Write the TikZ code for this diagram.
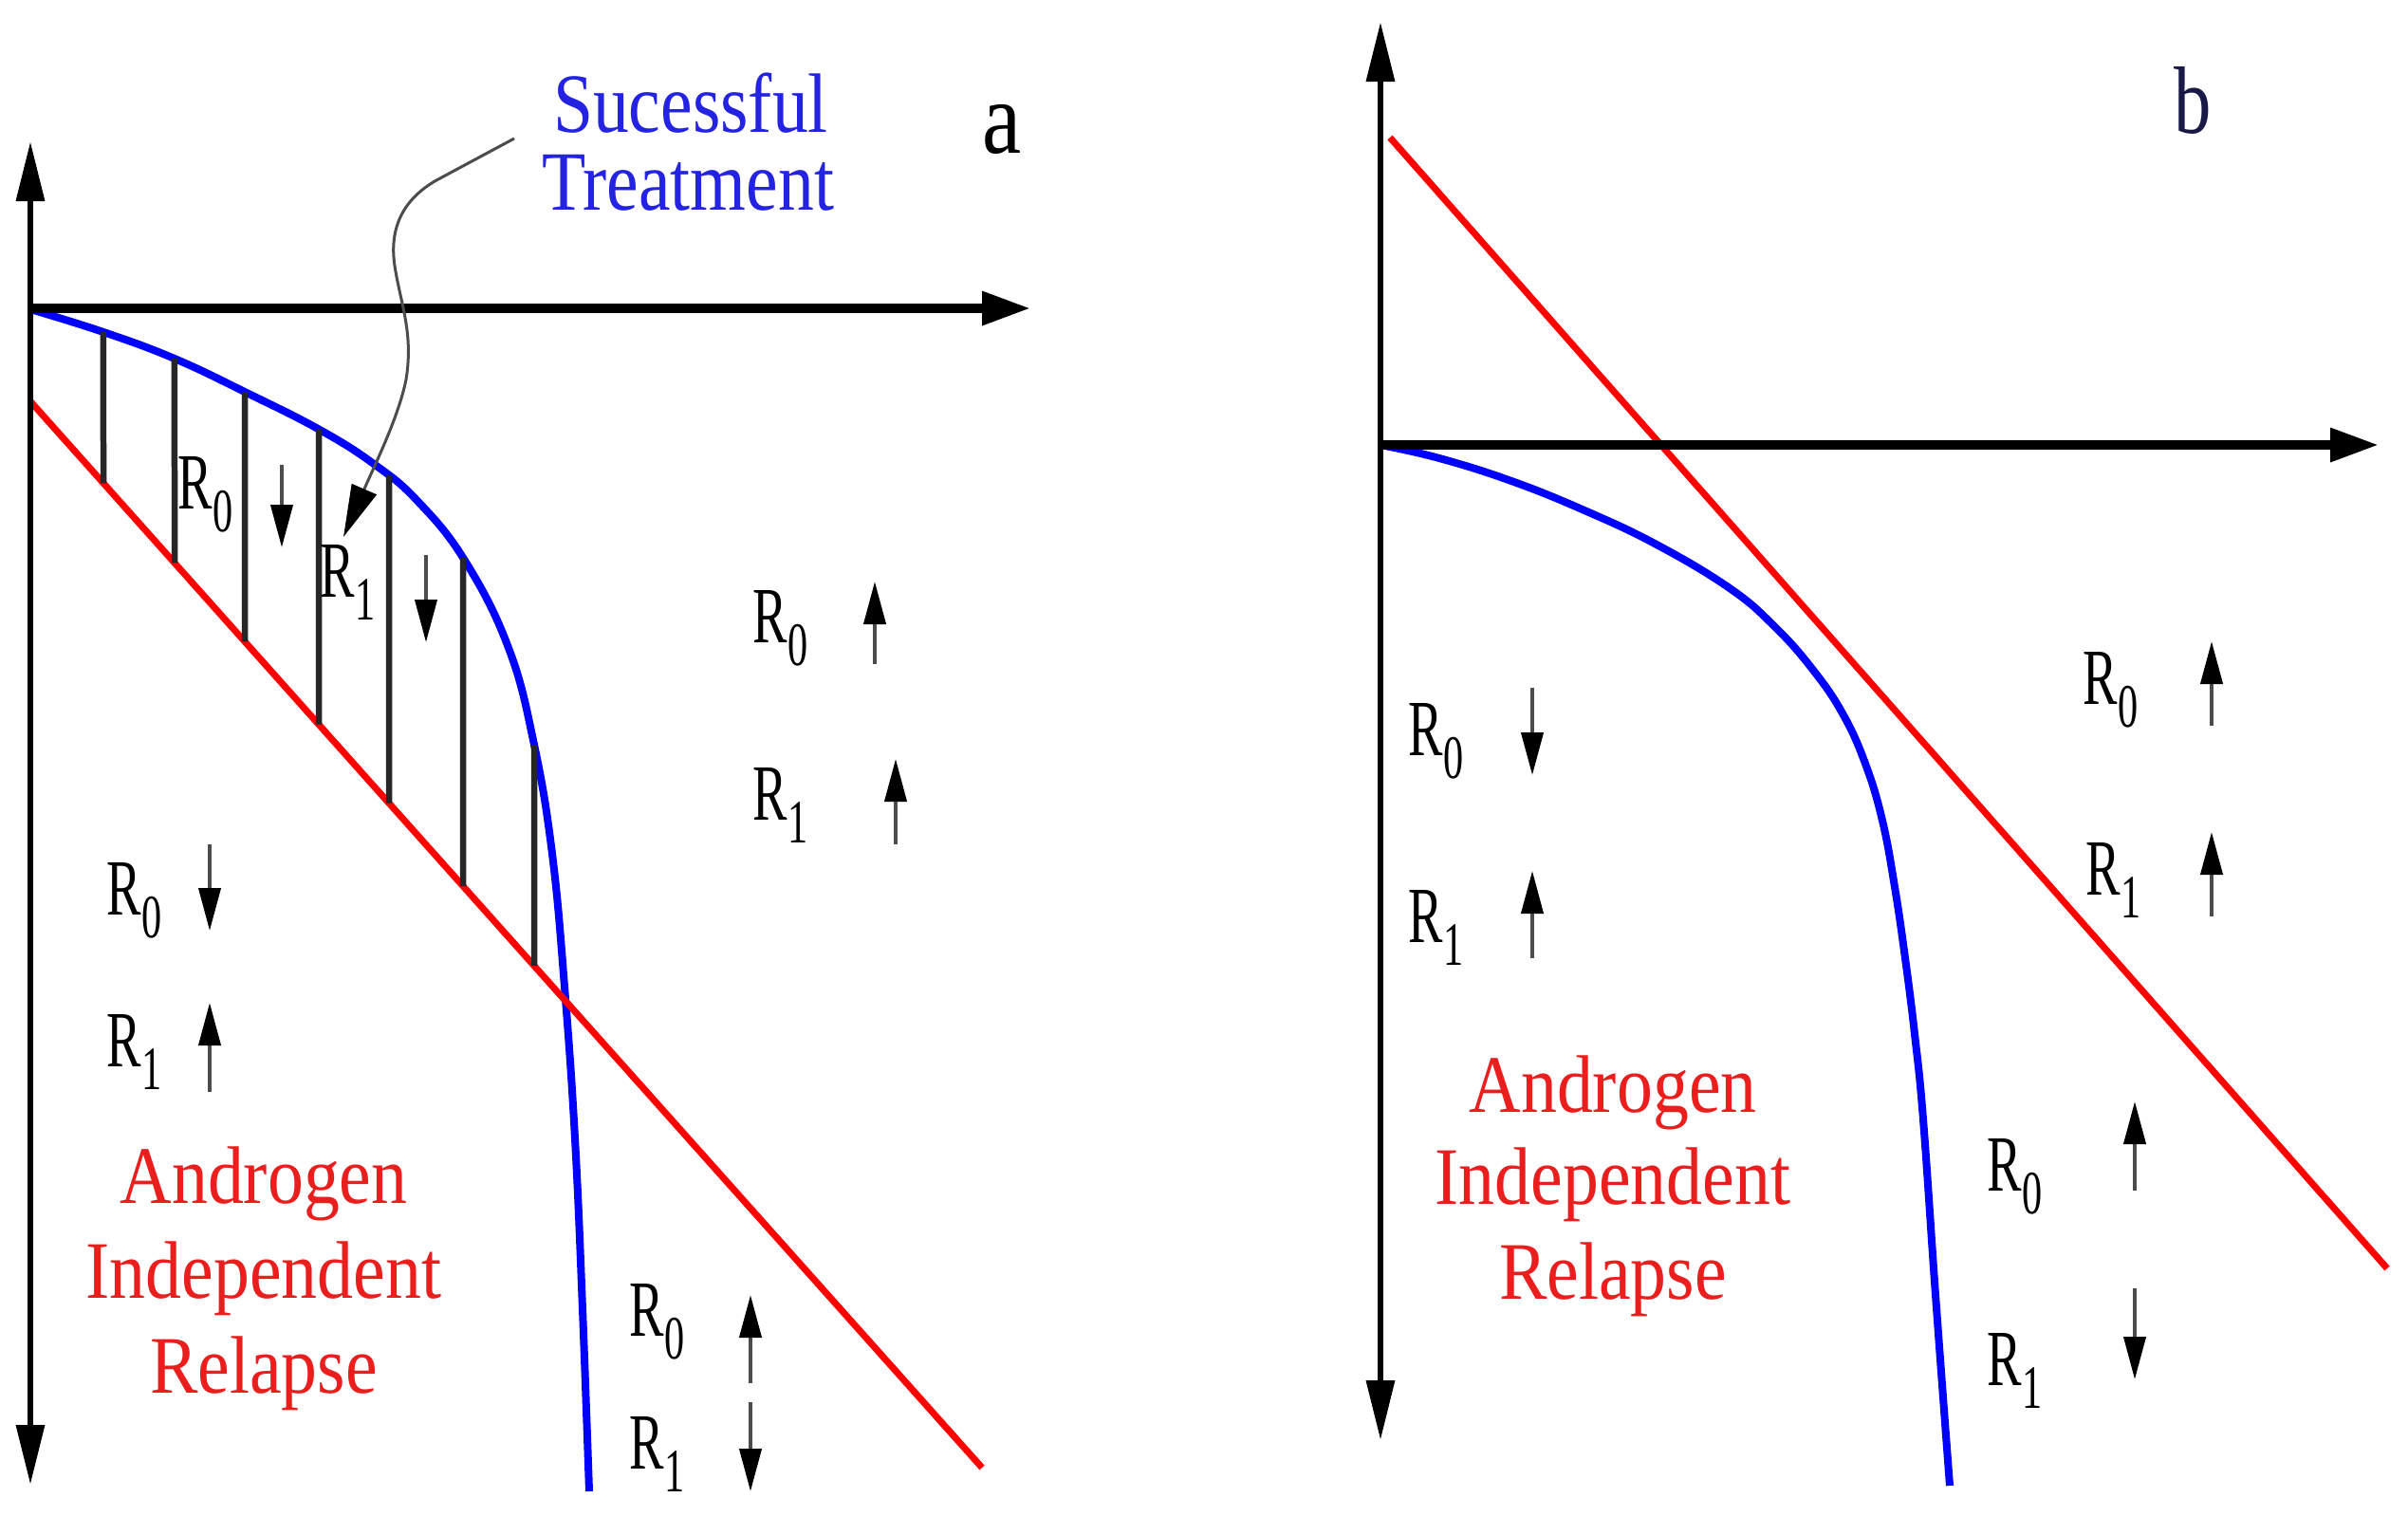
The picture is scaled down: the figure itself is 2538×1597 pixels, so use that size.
\documentclass[tikz,border=0pt]{standalone}
\usepackage{fontspec}
\setmainfont{Liberation Serif}
\newfontfamily\tnr{Liberation Serif}
\usepackage{graphicx}
\usetikzlibrary{arrows.meta,intersections}
\definecolor{txtblue}{RGB}{35,35,225}
\definecolor{txtred}{RGB}{235,30,30}
\definecolor{labb}{RGB}{25,25,70}
\newcommand{\RLab}[1]{\scalebox{0.65}[1]{R\raisebox{-0.29em}{\fontsize{18.5}{18.5}\selectfont #1}}}
\begin{document}
\begin{tikzpicture}[x=0.1mm,y=-0.1mm,
  vaxis/.style={black, line width=0.65mm, {Triangle[length=6.3mm,width=2.9mm]}-{Triangle[length=6.3mm,width=2.9mm]}},
  haxis/.style={black, line width=0.95mm, -{Triangle[length=5.1mm,width=3.4mm]}},
  bluecurve/.style={blue, line width=0.8mm},
  redline/.style={red, line width=0.7mm},
  hatch/.style={black!85, line width=0.65mm},
  sarrow/.style={black!70, line width=0.4mm, -{Triangle[length=4.5mm,width=2.3mm,color=black]}},
  curly/.style={black!70, line width=0.3mm, -{Triangle[length=5.5mm,width=2.8mm,color=black]}},
  rlab/.style={anchor=base west, inner sep=0pt, font=\tnr\fontsize{23.9}{23.9}\selectfont},
  redtxt/.style={anchor=base, inner sep=0pt, text=txtred, font=\tnr\fontsize{24.5}{24.5}\selectfont},
  bluetxt/.style={anchor=base, inner sep=0pt, text=txtblue, font=\tnr\fontsize{25.3}{25.3}\selectfont}
]
\useasboundingbox[fill=white] (0,0) rectangle (2538,1597);

% ---------------- panel a ----------------
\coordinate (aTop) at (32,149);
\coordinate (aBot) at (32,1565);
\coordinate (aO) at (32,325);
\coordinate (aRight) at (1086,325);
\coordinate (ra1) at (32,423);
\coordinate (ra2) at (1035,1547);

\draw[bluecurve, name path=bluea] plot[smooth, tension=0.7] coordinates {(32,326) (109,350) (184,378) (260,414) (337,453) (394,489) (440,528) (490,591) (536,683) (563,785) (582,900) (595,1040) (606,1200) (614,1380) (621,1572)};
\draw[redline, name path=reda] (ra1) -- (ra2);

\foreach \hx in {109,184,258,336,410,488,563} {
  \path[name path=vl] (\hx,300) -- (\hx,1200);
  \path[name intersections={of=vl and bluea, by=T}];
  \path[name intersections={of=vl and reda, by=B}];
  \draw[hatch] (T) -- (B);
}

\draw[vaxis] (aBot) -- (aTop);
\draw[haxis] (aO) -- (aRight);

% labels a
\node[anchor=base, inner sep=0pt, font=\tnr\fontsize{31}{31}\selectfont] (la) at (1056,161) {\scalebox{0.85}[1]{a}};
\node[bluetxt] (sucA) at (728,139) {\scalebox{0.85}[1]{Sucessful}};
\node[bluetxt] (treA) at (725,221) {\scalebox{0.85}[1]{Treatment}};
\coordinate (cs) at (542,146);
\coordinate (ce) at (362,566);
\draw[curly] (cs) -- (460,190) .. controls (425,210) and (410,240) .. (416,280) .. controls (422,320) and (436,350) .. (428,400) .. controls (420,440) and (395,490) .. (ce);

\node[redtxt] (andA1) at (278,1268) {\scalebox{0.88}[1]{Androgen}};
\node[redtxt] (andA2) at (278,1368) {\scalebox{0.88}[1]{Independent}};
\node[redtxt] (andA3) at (278,1468) {\scalebox{0.88}[1]{Relapse}};

\node[rlab] (a1) at (187,536) {\RLab{0}};
\node[rlab] (a2) at (337,629) {\RLab{1}};
\node[rlab] (a3) at (793,677) {\RLab{0}};
\node[rlab] (a4) at (793,864) {\RLab{1}};
\node[rlab] (a5) at (112,964) {\RLab{0}};
\node[rlab] (a6) at (112,1124) {\RLab{1}};
\node[rlab] (a7) at (663,1408) {\RLab{0}};
\node[rlab] (a8) at (663,1548) {\RLab{1}};

\coordinate (p1s) at (297,490); \coordinate (p1e) at (297,577);
\coordinate (p2s) at (449,585); \coordinate (p2e) at (449,677);
\coordinate (p3s) at (922,700); \coordinate (p3e) at (922,613);
\coordinate (p4s) at (944,890); \coordinate (p4e) at (944,800);
\coordinate (p5s) at (221,890); \coordinate (p5e) at (221,981);
\coordinate (p6s) at (221,1151); \coordinate (p6e) at (221,1057);
\coordinate (p7s) at (791,1458); \coordinate (p7e) at (791,1365);
\coordinate (p8s) at (791,1478); \coordinate (p8e) at (791,1572);
\foreach \i in {1,...,8} { \draw[sarrow] (p\i s) -- (p\i e); }

% ---------------- panel b ----------------
\coordinate (bTop) at (1455,23);
\coordinate (bBot) at (1455,1518);
\coordinate (bO) at (1455,469);
\coordinate (bRight) at (2507,469);
\coordinate (rb1) at (1465,145);
\coordinate (rb2) at (2516,1337);

\draw[bluecurve] plot[smooth, tension=0.7] coordinates {(1455,469) (1517,483) (1593,507) (1670,538) (1746,574) (1823,620) (1870,660) (1910,705) (1942,752) (1966,805) (1984,865) (1997,935) (2008,1010) (2018,1090) (2027,1180) (2040,1365) (2055,1566)};
\draw[redline] (rb1) -- (rb2);
\draw[vaxis] (bBot) -- (bTop);
\draw[haxis] (bO) -- (bRight);

\node[anchor=base, inner sep=0pt, text=labb, font=\tnr\fontsize{28.7}{28.7}\selectfont] (lb) at (2311,140) {\scalebox{0.78}[1]{b}};

\node[redtxt] (andB1) at (1700,1172) {\scalebox{0.88}[1]{Androgen}};
\node[redtxt] (andB2) at (1700,1269) {\scalebox{0.88}[1]{Independent}};
\node[redtxt] (andB3) at (1700,1369) {\scalebox{0.88}[1]{Relapse}};

\node[rlab] (b1) at (1484,796) {\RLab{0}};
\node[rlab] (b2) at (1484,993) {\RLab{1}};
\node[rlab] (b3) at (2195,742) {\RLab{0}};
\node[rlab] (b4) at (2198,943) {\RLab{1}};
\node[rlab] (b5) at (2094,1255) {\RLab{0}};
\node[rlab] (b6) at (2094,1460) {\RLab{1}};

\coordinate (q1s) at (1615,725); \coordinate (q1e) at (1615,817);
\coordinate (q2s) at (1615,1010); \coordinate (q2e) at (1615,918);
\coordinate (q3s) at (2331,765); \coordinate (q3e) at (2331,676);
\coordinate (q4s) at (2331,966); \coordinate (q4e) at (2331,877);
\coordinate (q5s) at (2250,1255); \coordinate (q5e) at (2250,1161);
\coordinate (q6s) at (2250,1358); \coordinate (q6e) at (2250,1454);
\foreach \i in {1,...,6} { \draw[sarrow] (q\i s) -- (q\i e); }
\end{tikzpicture}
\end{document}
